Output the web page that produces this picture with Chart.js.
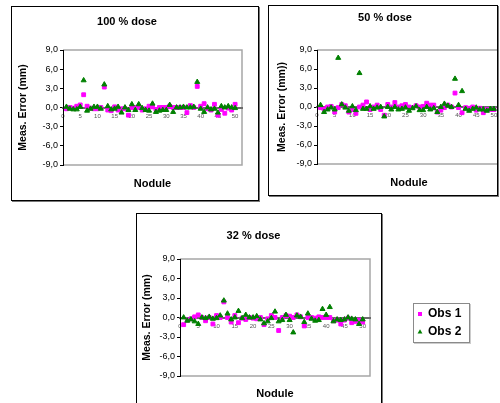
<!DOCTYPE html>
<html>
<head>
<meta charset="utf-8">
<script src="https://cdn.jsdelivr.net/npm/chart.js@4.4.0/dist/chart.umd.min.js"></script>
<style>
  html, body { margin: 0; padding: 0; background: #fff; }
  body { width: 500px; height: 403px; position: relative; overflow: hidden; }
  .frame { position: absolute; border: 1px solid #000; box-shadow: 1px 1px 0 #777; overflow: hidden; background: #fff; }
  .frame canvas { position: absolute; left: 0; top: 0; }
  #legendBox { position: absolute; left: 413px; top: 303px; width: 55px; height: 38px; border: 1px solid #8a8a8a; box-shadow: 1px 1px 0 #ccc; background: #fff; }
  #legend { position: absolute; left: 412px; top: 302px; }
</style>
</head>
<body>
<div class="frame" style="left:11px;top:6px;width:246px;height:193px"><canvas id="dose100" width="246" height="193"></canvas></div>
<div class="frame" style="left:268px;top:5px;width:228px;height:189px"><canvas id="dose50" width="250" height="189"></canvas></div>
<div class="frame" style="left:136px;top:213px;width:244px;height:200px"><canvas id="dose32" width="257" height="200"></canvas></div>
<div id="legendBox"></div>
<canvas id="legend" width="56" height="90"></canvas>
<script>
// ---- data ----
const nodules = [1, 2, 3, 4, 5, 6, 7, 8, 9, 10, 11, 12, 13, 14, 15, 16, 17, 18, 19, 20,
  21, 22, 23, 24, 25, 26, 27, 28, 29, 30, 31, 32, 33, 34, 35, 36, 37, 38, 39, 40,
  41, 42, 43, 44, 45, 46, 47, 48, 49, 50];
const xTicks = [0, 5, 10, 15, 20, 25, 30, 35, 40, 45, 50];
const yTicks = [-9, -6, -3, 0, 3, 6, 9];
const yTickLabels = ['-9,0', '-6,0', '-3,0', '0,0', '3,0', '6,0', '9,0'];
const seriesNames = ['Obs 1', 'Obs 2'];

const obs1Dose100 = [-0.2, 0.0, -0.1, 0.2, 0.4, 2.0, 0.2, -0.1, -0.2, -0.2,
  0.0, 3.2, -0.4, -0.5, 0.1, -0.4, -0.2, -0.2, -1.2, 0.0,
  0.0, 0.0, -0.4, -0.2, 0.2, 0.1, -0.3, 0.0, 0.0, 0.0,
  0.2, 0.0, 0.0, 0.0, 0.0, -0.8, 0.3, 0.0, 3.3, 0.2,
  0.6, -0.2, -0.4, 0.5, -1.2, -0.3, -0.9, -0.1, -0.4, 0.5];
const obs2Dose100 = [0.1, -0.2, -0.3, -0.3, 0.1, 4.25, -0.5, -0.2, 0.1, 0.1,
  -0.2, 3.6, 0.2, -0.3, -0.2, 0.1, -0.8, 0.0, -0.4, 0.5,
  -0.4, 0.5, -0.1, -0.4, -0.5, 0.6, -0.7, -0.5, -0.4, -0.4,
  0.4, -0.7, 0.0, 0.0, 0.1, 0.0, 0.0, 0.1, 4.0, -0.2,
  -0.7, 0.0, -0.3, -0.2, -0.8, 0.2, 0.0, 0.2, 0.0, -0.1];

const obs1Dose50 = [-0.1, -0.3, 0.0, 0.1, -0.8, -0.1, 0.4, 0.2, -0.8, -0.4,
  -1.0, 0.0, 0.3, 0.8, -0.4, 0.0, 0.3, -0.4, -1.3, 0.4,
  0.0, 0.7, 0.0, 0.2, 0.4, 0.0, -0.1, 0.2, 0.0, 0.1,
  0.6, 0.3, 0.3, -0.8, -0.5, -0.1, 0.3, 0.0, 2.2, -0.1,
  -0.9, -0.1, -0.2, 0.0, -0.5, -0.2, -0.9, -0.4, -0.4, -0.4];
const obs2Dose50 = [0.3, -0.8, -0.4, -0.1, -0.4, 7.75, 0.4, -0.1, -0.6, 0.1,
  -0.5, 5.35, -0.3, -0.3, 0.1, -0.3, -0.1, 0.0, -1.5, 0.0,
  -0.4, 0.0, -0.4, -0.3, -0.1, -0.6, -0.2, 0.1, -0.5, -0.5,
  0.0, -0.4, -0.2, -0.8, 0.0, 0.5, 0.2, 0.0, 4.45, 0.3,
  2.5, -0.3, -0.6, -0.3, -0.1, -0.4, -0.4, -0.6, -0.3, -0.3];

const obs1Dose32 = [-1.1, -0.4, -0.2, 0.1, 0.4, 0.0, -0.5, 0.0, -1.0, 0.3,
  0.0, 2.4, 0.0, -0.7, 0.3, -0.8, -0.1, -0.3, 0.0, -0.1,
  -0.2, 0.0, -1.1, -0.2, 0.3, 0.0, -2.0, 0.0, 0.3, 0.2,
  0.0, 0.4, 0.1, -1.3, 0.0, 0.0, -0.1, 0.1, 0.0, 0.0,
  0.0, -0.5, -0.4, -1.0, -0.4, -0.1, -0.8, -0.6, -0.4, -0.7];
const obs2Dose32 = [0.0, -0.5, -0.3, -0.6, -1.0, 0.0, -0.1, 0.1, -0.2, -0.1,
  0.3, 2.6, 0.6, -0.3, 0.0, 1.0, -0.1, 0.4, 0.0, 0.0,
  0.2, -0.3, -0.9, -0.6, -0.1, 0.9, -0.6, -0.4, 0.4, -0.4,
  -2.3, 0.3, 0.1, -0.7, 0.6, -0.2, -0.5, -0.4, 1.3, 0.4,
  1.6, -0.6, -0.3, -0.4, -0.3, 0.0, -0.2, -0.3, -1.0, -0.3];

// ---- look ----
const FONT = 'Arial, "Liberation Sans", sans-serif';
const PINK = '#ff00ff';
const GREEN = '#008000';

Chart.defaults.font.family = FONT;
Chart.defaults.color = '#000';
Chart.defaults.animation = false;

// grey frame on top, right and bottom of the plot area (the y axis is the left side)
const plotFrame = {
  id: 'plotFrame',
  beforeDraw(chart) {
    const { ctx, chartArea: a } = chart;
    ctx.save();
    ctx.strokeStyle = '#a6a6a6';
    ctx.lineWidth = 1.5;
    ctx.beginPath();
    ctx.moveTo(a.left, a.top);
    ctx.lineTo(a.right, a.top);
    ctx.lineTo(a.right, a.bottom);
    ctx.lineTo(a.left, a.bottom);
    ctx.stroke();
    ctx.restore();
  }
};

function toPoints(values) {
  return nodules.map((n, i) => ({ x: n, y: values[i] }));
}

// box: where the plot area and the texts sit inside the canvas
function doseChart(id, title, yTitle, obs1, obs2, box) {
  const canvas = document.getElementById(id);
  const W = canvas.width, H = canvas.height;
  const padBottom = H - box.nodY - 6.6;
  return new Chart(canvas, {
    type: 'scatter',
    data: {
      datasets: [
        { label: seriesNames[0], data: toPoints(obs1), pointStyle: 'rect', pointRadius: 2.7,
          backgroundColor: PINK, borderColor: PINK, borderWidth: 1, order: 1, xAxisID: 'x', yAxisID: 'y' },
        { label: seriesNames[1], data: toPoints(obs2), pointStyle: 'triangle', pointRadius: 2.9,
          backgroundColor: GREEN, borderColor: GREEN, borderWidth: 1, order: 0, xAxisID: 'x', yAxisID: 'y' }
      ]
    },
    options: {
      responsive: false,
      animation: false,
      events: [],
      layout: { padding: { left: 0, top: 0, right: W - box.right, bottom: padBottom } },
      plugins: {
        legend: { display: false },
        tooltip: { enabled: false },
        title: {
          display: true, text: title, color: '#000',
          font: { size: 11, weight: 'bold' },
          padding: { top: box.titleY - 6.6, bottom: box.top - box.titleY - 6.6 }
        }
      },
      scales: {
        x: {
          type: 'linear', position: { y: 0 }, min: 0, max: 52,
          afterBuildTicks: s => { s.ticks = xTicks.map(v => ({ value: v })); },
          grid: { display: false, drawTicks: false },
          border: { display: true, color: '#6b6b6b', width: 2 },
          ticks: { padding: 5, autoSkip: false, maxRotation: 0, color: '#555', font: { size: 6 } }
        },
        nod: {
          type: 'linear', axis: 'x', position: 'bottom',
          afterFit: s => { s.height = box.nodY + 6.6 - box.bottom; },
          ticks: { display: false },
          grid: { display: false, drawTicks: false },
          border: { display: false },
          title: { display: true, text: 'Nodule', color: '#000', font: { size: 11, weight: 'bold' }, padding: 0 }
        },
        y: {
          type: 'linear', position: 'left', min: -9, max: 9,
          afterFit: s => { s.width = box.left; },
          afterBuildTicks: s => { s.ticks = yTicks.map(v => ({ value: v })); },
          grid: { drawOnChartArea: false, drawTicks: true, tickLength: 3, tickColor: '#000' },
          border: { display: true, color: '#000', width: 1 },
          ticks: { padding: 2, color: '#000', font: { size: 9 }, callback: (v, i) => yTickLabels[i] },
          title: {
            display: true, text: yTitle, color: '#000',
            font: { size: 10.5, weight: 'bold' },
            padding: { top: box.yTitleX - 6.3, bottom: 0 }
          }
        }
      }
    },
    plugins: [plotFrame]
  });
}

doseChart('dose100', '100 % dose', 'Meas. Error (mm)', obs1Dose100, obs2Dose100,
  { left: 51, top: 43, right: 230, bottom: 158, titleY: 15, yTitleX: 11, nodY: 177 });
doseChart('dose50', '50 % dose', 'Meas. Error (mm))', obs1Dose50, obs2Dose50,
  { left: 48, top: 44, right: 232, bottom: 158, titleY: 12, yTitleX: 13, nodY: 177 });
doseChart('dose32', '32 % dose', 'Meas. Error (mm)', obs1Dose32, obs2Dose32,
  { left: 43, top: 45, right: 233, bottom: 162, titleY: 22, yTitleX: 10, nodY: 180 });

// shared legend, one entry per row
new Chart(document.getElementById('legend'), {
  type: 'scatter',
  data: {
    datasets: [
      { label: seriesNames[0], data: [], pointStyle: 'rect', backgroundColor: PINK, borderColor: PINK, borderWidth: 0 },
      { label: seriesNames[1], data: [], pointStyle: 'triangle', backgroundColor: GREEN, borderColor: GREEN, borderWidth: 0 }
    ]
  },
  options: {
    responsive: false,
    animation: false,
    events: [],
    layout: { padding: 0 },
    scales: { x: { display: false }, y: { display: false } },
    plugins: {
      tooltip: { enabled: false },
      legend: {
        display: true, position: 'top', align: 'start', maxHeight: 60,
        labels: { usePointStyle: true, boxWidth: 4, boxHeight: 4, padding: 6, color: '#000', font: { size: 12, weight: 'bold' } }
      }
    }
  }
});
</script>
</body>
</html>
